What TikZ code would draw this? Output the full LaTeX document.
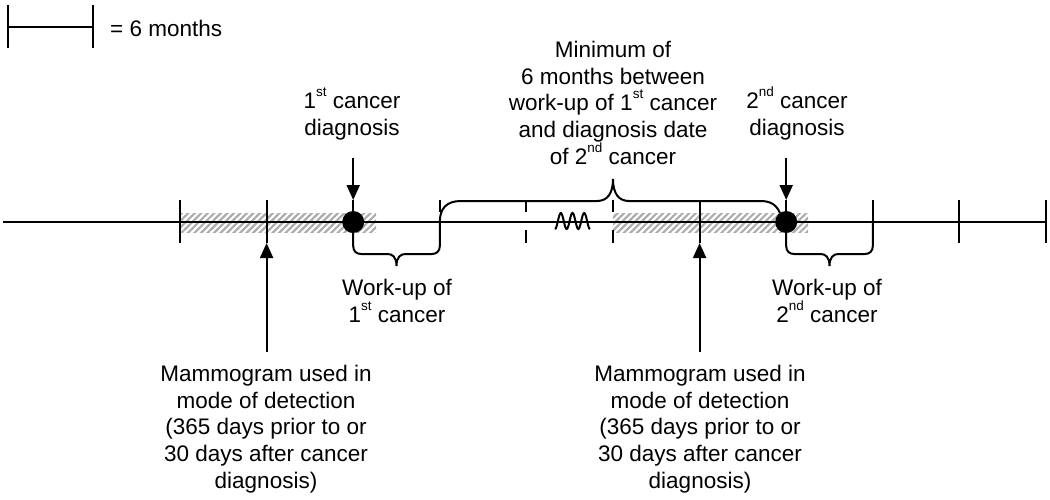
\documentclass[tikz,border=0pt]{standalone}
\usepackage{fontspec}
\setmainfont{Liberation Sans}
\usetikzlibrary{arrows.meta,patterns.meta,calc}
\tikzset{
    %Define standard arrow tip
    >={Triangle[length=15pt,width=13pt]},
    line/.style={line width=2pt},
    hatch/.style={pattern={Lines[angle=45,distance=4.6pt,line width=2.2pt]},pattern color=gray!65},
    txt/.style={font=\fontsize{22.5}{26.7}\selectfont,align=center,inner sep=0pt,anchor=north}
}
\newcommand\ordn[1]{\raisebox{12pt}{\fontsize{13.5}{13.5}\selectfont #1}}
% work-up brace: left x, width
\def\wBrace#1#2{
	\begin{scope}[shift={(#1,254)}]
		\draw[line] (0,-21) -- (0,-8) .. controls (0,-3) and (3,0) .. (8,0) -- (#2/2-9,0)
			.. controls (#2/2-4,0) and (#2/2,3) .. (#2/2,12)
			.. controls (#2/2,3) and (#2/2+4,0) .. (#2/2+9,0) -- (#2-8,0)
			.. controls (#2-3,0) and (#2,-3) .. (#2,-8) -- (#2,-32);
	\end{scope}
}

\begin{document}
\begin{tikzpicture}[x=1pt,y=-1pt]
    \useasboundingbox (0,0) rectangle (1050,499);
    % legend
    \coordinate (lg0) at (8,27);
    \coordinate (lg1) at (93,27);
    \draw[line] (lg0) -- (lg1);
    \foreach \c in {lg0,lg1}{
        \draw[line] ($(\c)+(0,-22)$) -- ($(\c)+(0,21)$);
    }
    \node[txt,anchor=west] (legtxt) at (110,28) {= 6 months};
    % time axis
    \foreach \i in {0,...,10}{
        \coordinate (tk\i) at (180+86.6*\i,222);
        \coordinate (tk\i-up) at (180+86.6*\i,200);
        \coordinate (tk\i-dn) at (180+86.6*\i,243);
    }
    \fill[hatch] (180,213) rectangle (376,232);
    \fill[hatch] (613,213) rectangle (808,232);
    \draw[line] (3,222) -- (tk10);
    \foreach \i in {0,1,2,6,7,8,9,10}{
        \draw[line] (tk\i-up) -- (tk\i-dn);
    }
    \foreach \i in {3,4,5}{
        \draw[line] (tk\i-up) -- ++(0,12);
        \draw[line] (tk\i-dn) -- ++(0,-13);
    }
    \draw[line] plot[domain=0:3,samples=61,smooth] ({555+35*\x/3},{221+8*cos(360*\x)});
    % diagnoses
    \node[circle,fill,inner sep=0pt,minimum size=22pt] (dot1) at (tk2) {};
    \node[circle,fill,inner sep=0pt,minimum size=22pt] (dot2) at (tk7) {};
    % braces
    \wBrace{353.2}{86.6}
    \wBrace{786.2}{86.6}
    \draw[line] (439.8,222) .. controls (439.8,208) and (447,201) .. (461,201) -- (597,201)
        .. controls (607,201) and (613,194) .. (613,179)
        .. controls (613,194) and (619,201) .. (629,201) -- (760,201)
        .. controls (770,201) and (776,204) .. (780,213);
    % labels
    \node[txt] (mindiag) at (613,41) {Minimum of\\6 months between\\work-up of 1\ordn{st} cancer\\and diagnosis date\\of 2\ordn{nd} cancer};
    \node[txt] (dx1) at (352,88) {1\ordn{st} cancer\\diagnosis};
    \node[txt] (dx2) at (797,87) {2\ordn{nd} cancer\\diagnosis};
    \node[txt] (wu1) at (397,279) {Work-up of\\1\ordn{st} cancer};
    \node[txt] (wu2) at (827,279) {Work-up of\\2\ordn{nd} cancer};
    \node[txt] (mam1) at (266,365) {Mammogram used in\\mode of detection\\(365 days prior to or\\30 days after cancer\\diagnosis)};
    \node[txt] (mam2) at (700,365) {Mammogram used in\\mode of detection\\(365 days prior to or\\30 days after cancer\\diagnosis)};
    % arrows
    \draw[line,->,shorten <=17pt] (dx1.south -| tk2-up) -- (tk2-up);
    \draw[line,->,shorten <=17pt] (dx2.south -| tk7-up) -- (tk7-up);
    \draw[line,->,shorten <=13pt] (mam1.north -| tk1-dn) -- (tk1-dn);
    \draw[line,->,shorten <=13pt] (mam2.north -| tk6-dn) -- (tk6-dn);
\end{tikzpicture}
\end{document}
